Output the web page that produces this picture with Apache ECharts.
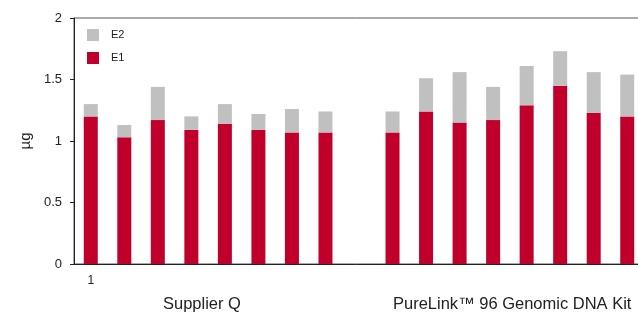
<!DOCTYPE html>
<html>
<head>
<meta charset="utf-8">
<script src="https://cdn.jsdelivr.net/npm/echarts@6/dist/echarts.min.js"></script>
<style>
  html, body { margin: 0; padding: 0; background: #fff; }
  #chart { width: 638px; height: 312px; }
</style>
</head>
<body>
<div id="chart"></div>
<script>
// 数据 (empty slot between the two groups)
var categories = ['1', '2', '3', '4', '5', '6', '7', '8', '', '9', '10', '11', '12', '13', '14', '15', '16'];
var e1Values = [1.20, 1.03, 1.17, 1.09, 1.14, 1.09, 1.07, 1.07, '-', 1.07, 1.24, 1.15, 1.17, 1.29, 1.45, 1.23, 1.20];
var e2Values = [0.10, 0.10, 0.27, 0.11, 0.16, 0.13, 0.19, 0.17, '-', 0.17, 0.27, 0.41, 0.27, 0.32, 0.28, 0.33, 0.34];
var yTicks = [0, 0.5, 1, 1.5, 2];
var groupLabels = ['Supplier Q', 'PureLink\u2122 96 Genomic DNA Kit'];

var RED = '#c0002a';
var GRAY = '#c0c0c0';
var FONT = 'Liberation Sans, Arial, sans-serif';

var myChart = echarts.init(document.getElementById('chart'));

var chartOpt = {
  animation: false,
  textStyle: { fontFamily: FONT },
  grid: {
    left: 74, top: 18, width: 570, height: 246,
    outerBoundsMode: 'none',
    show: true, borderColor: '#555', borderWidth: 1, backgroundColor: 'transparent'
  },
  legend: {
    orient: 'vertical', left: 82, top: 24,
    itemWidth: 12, itemHeight: 12, itemGap: 11,
    icon: 'rect',
    data: ['E2', 'E1'],
    textStyle: { fontSize: 11, color: '#222', fontFamily: FONT, padding: [0, 0, 0, 7] }
  },
  xAxis: {
    type: 'category',
    data: categories,
    boundaryGap: true,
    axisLine: { lineStyle: { color: '#222', width: 1 } },
    axisTick: { show: false },
    axisLabel: {
      interval: 0, margin: 11, fontSize: 12, color: '#222',
      formatter: function (v, i) { return i === 0 ? v : ''; }
    }
  },
  yAxis: {
    type: 'value',
    min: yTicks[0], max: yTicks[yTicks.length - 1], interval: 0.5,
    name: '\u00b5g', nameLocation: 'middle', nameGap: 39, nameRotate: 90,
    nameTextStyle: { fontSize: 15, color: '#222' },
    axisLine: { show: true, lineStyle: { color: '#222', width: 1 } },
    axisTick: { show: true, length: 4, lineStyle: { color: '#222' } },
    splitLine: { show: false },
    axisLabel: { margin: 12, fontSize: 13, color: '#222' }
  },
  series: [
    { name: 'E1', type: 'bar', stack: 'total', barWidth: 14, data: e1Values, itemStyle: { color: RED } },
    { name: 'E2', type: 'bar', stack: 'total', barWidth: 14, data: e2Values, itemStyle: { color: GRAY } }
  ],
  graphic: [
    { type: 'text', left: 163, top: 296, style: { text: groupLabels[0], fontSize: 16.5, fill: '#222', fontFamily: FONT } },
    { type: 'text', left: 393, top: 296, style: { text: groupLabels[1], fontSize: 16.5, fill: '#222', fontFamily: FONT } }
  ]
};

myChart.setOption(chartOpt);
</script>
</body>
</html>
